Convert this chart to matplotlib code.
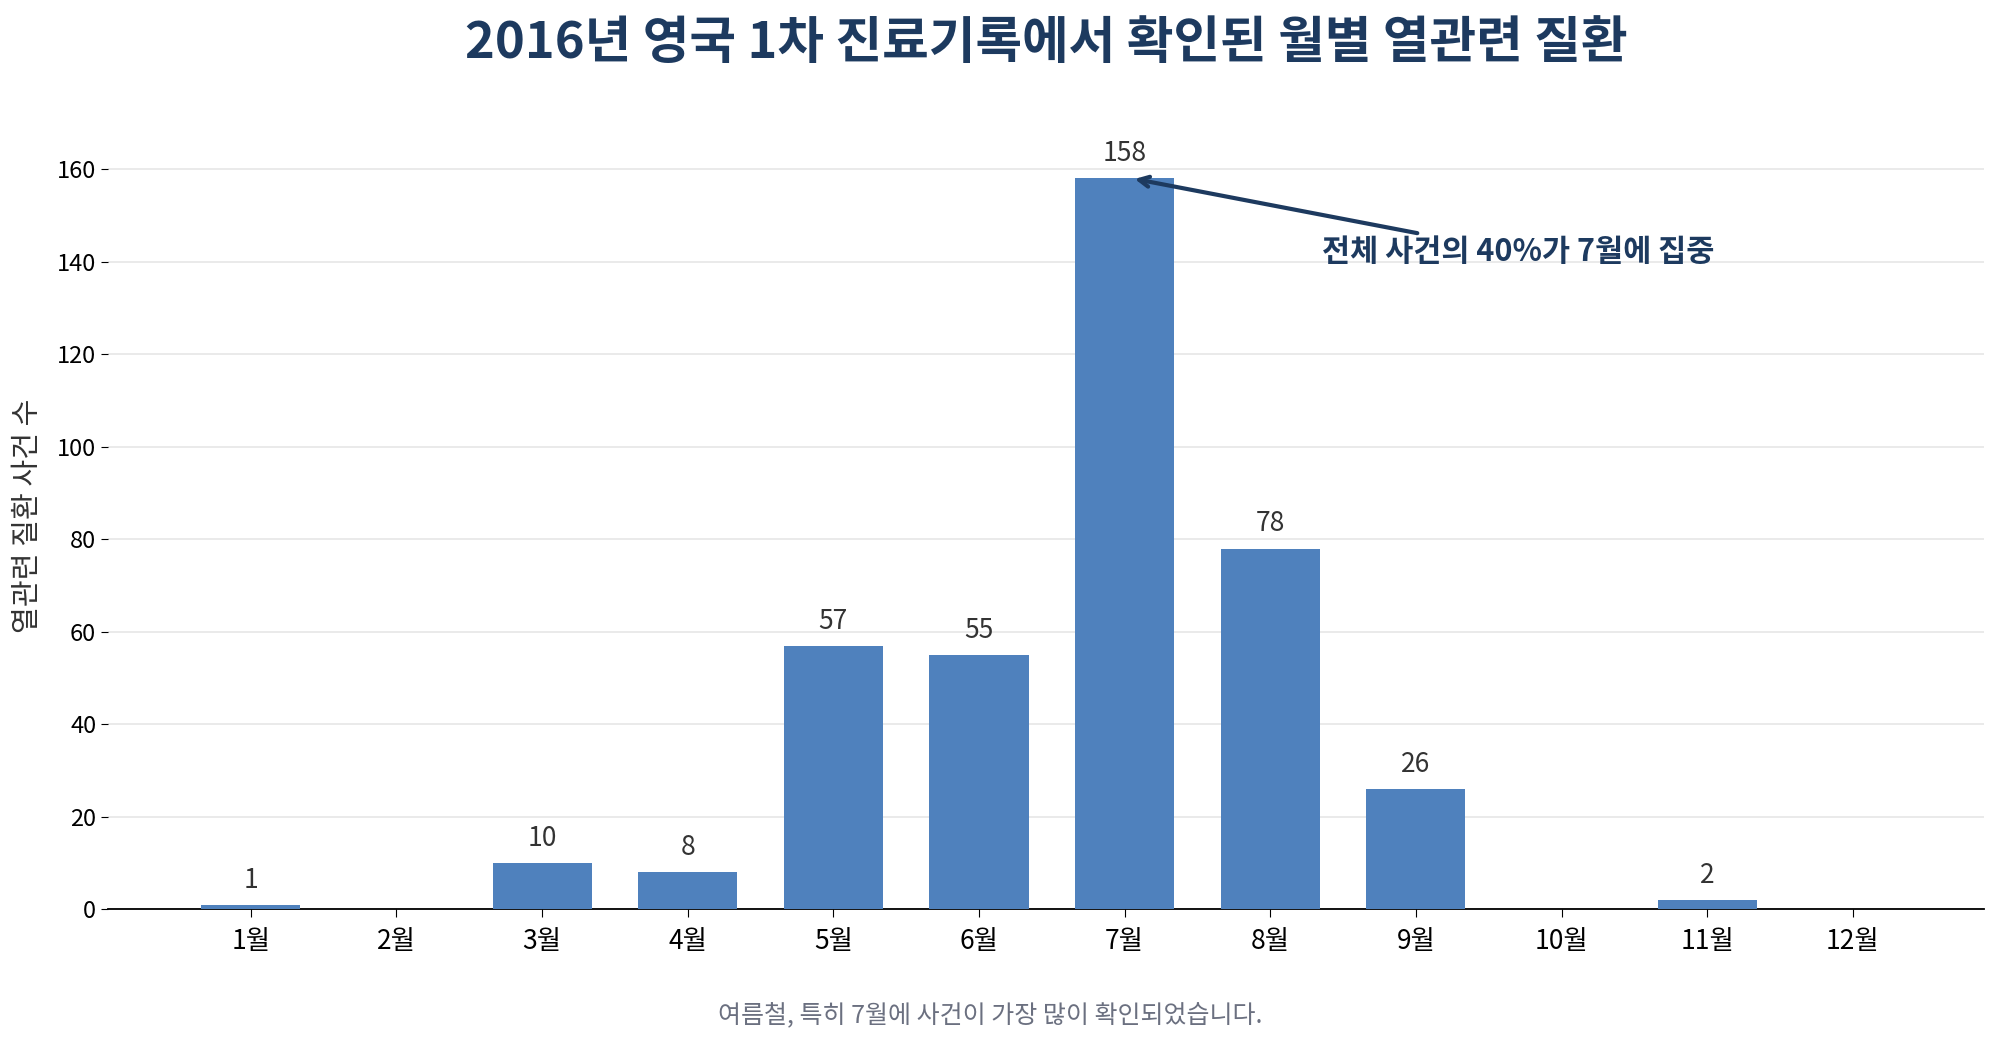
import matplotlib
matplotlib.use("Agg")
import matplotlib.pyplot as plt
import numpy as np

plt.rcParams['font.family'] = ['Noto Sans CJK KR', 'DejaVu Sans']

# 월별 열관련 질환 사건 수 (2016, 영국 1차 진료기록)
months = ["1월", "2월", "3월", "4월", "5월", "6월",
          "7월", "8월", "9월", "10월", "11월", "12월"]
counts = [1, 0, 10, 8, 57, 55, 158, 78, 26, 0, 2, 0]
y_ticks = [0, 20, 40, 60, 80, 100, 120, 140, 160]

title = "2016년 영국 1차 진료기록에서 확인된 월별 열관련 질환"
ylabel = "열관련 질환 사건 수"
note = "전체 사건의 40%가 7월에 집중"
footer = "여름철, 특히 7월에 사건이 가장 많이 확인되었습니다."

navy = "#1d3a5f"
bar_color = "#4f81bd"

fig = plt.figure(figsize=(20, 10.46), dpi=100)
ax = fig.add_axes([0.054, 0.1305, 0.938, 0.752])

x = np.arange(len(months))
bars = ax.bar(x, counts, width=0.68, color=bar_color, zorder=3)

# 값 라벨 (0인 달은 생략)
for xi, c in zip(x, counts):
    if c > 0:
        ax.annotate(str(c), (xi, c), xytext=(0, 8), textcoords="offset points",
                    ha="center", va="bottom", fontsize=19, color="#333333")

ax.set_xticks(x)
ax.set_xticklabels(months, fontsize=19)
ax.set_yticks(y_ticks)
ax.tick_params(axis="y", labelsize=17, length=5)
ax.tick_params(axis="x", length=6, pad=7)
ax.set_xlim(-0.98, 11.9)
ax.set_ylim(0, 170)

ax.grid(axis="y", color="#e6e6e6", lw=1.2, zorder=0)
for s in ["top", "right", "left"]:
    ax.spines[s].set_visible(False)
ax.spines["bottom"].set_color("black")
ax.spines["bottom"].set_linewidth(1.3)

ax.set_ylabel(ylabel, fontsize=21, color="#333333", labelpad=10)
ax.set_title(title, fontsize=36.5, fontweight="bold", color=navy, pad=47)

peak = int(np.argmax(counts))
ax.annotate(note, xy=(peak + 0.05, counts[peak]), xytext=(8.7, 142),
            ha="center", va="center", fontsize=22, fontweight="bold", color=navy,
            arrowprops=dict(arrowstyle="->", color=navy, lw=3, mutation_scale=18))

fig.text(0.495, 0.028, footer, ha="center", va="center", fontsize=18, color="#6b7080")

fig.savefig("out.png", dpi=100)
